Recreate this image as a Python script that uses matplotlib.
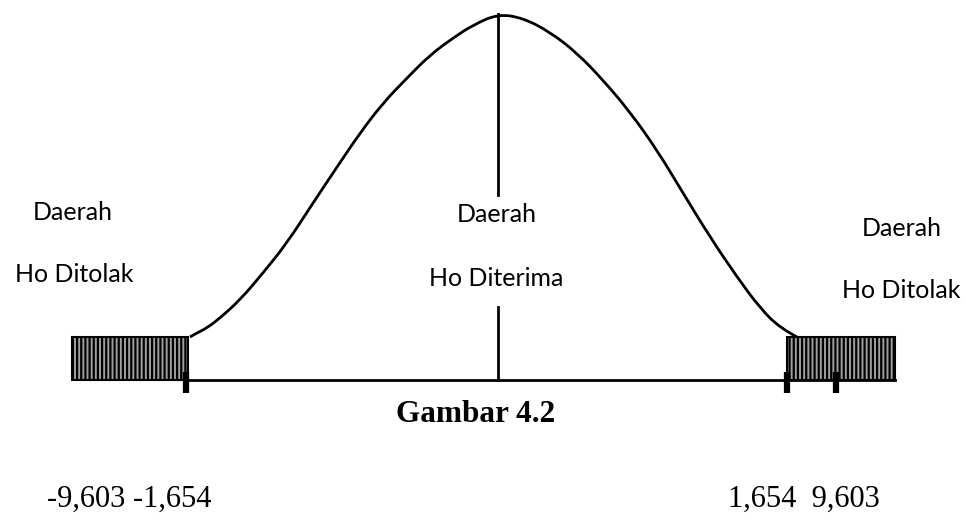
import matplotlib.pyplot as plt
from matplotlib.patches import Rectangle, PathPatch
from matplotlib.path import Path
import matplotlib as mpl

# curve outline (pixel coords, y downwards)
curve_x = [190, 193, 207, 220, 240, 263, 287, 313, 337, 360, 383, 407, 430, 453, 473, 498,
           523, 550, 577, 603, 630, 657, 683, 710, 737, 760, 780, 797]
curve_y = [337, 335, 328, 318, 300, 273, 243, 203, 167, 133, 103, 78, 55, 38, 25, 14,
           18, 32, 53, 80, 112, 150, 193, 237, 277, 308, 328, 337]

# critical values under the axis
left_labels = "-9,603 -1,654"
right_labels = "1,654  9,603"
tick_x = [186, 787, 836]
title = "Gambar 4.2"

mpl.rcParams['hatch.color'] = '#1a1a1a'
mpl.rcParams['hatch.linewidth'] = 1.6

fig = plt.figure(figsize=(9.66, 5.29), dpi=100)
ax = fig.add_axes([0, 0, 1, 1])
ax.set_xlim(0, 966)
ax.set_ylim(529, 0)
ax.axis('off')

# shaded rejection regions
ax.add_patch(Rectangle((72, 337), 116, 43, facecolor='#a0a0a0', edgecolor='black',
                       hatch='||||', lw=1.5))
ax.add_patch(Rectangle((787, 337), 108, 43, facecolor='#a0a0a0', edgecolor='black',
                       hatch='||||', lw=1.5))

# smooth curve: points used as quadratic control points, passing through midpoints
pts = list(zip(curve_x, curve_y))
verts = [pts[0]]
codes = [Path.MOVETO]
for i in range(1, len(pts) - 1):
    mid = ((pts[i][0] + pts[i + 1][0]) / 2, (pts[i][1] + pts[i + 1][1]) / 2)
    if i == len(pts) - 2:
        mid = pts[-1]
    verts += [pts[i], mid]
    codes += [Path.CURVE3, Path.CURVE3]
ax.add_patch(PathPatch(Path(verts, codes), fill=False, lw=2, edgecolor='black'))

# axis line and center line
ax.plot([186, 895], [380, 380], color='black', lw=2)
ax.plot([498, 498], [14, 195], color='black', lw=2)
ax.plot([498, 498], [307, 380], color='black', lw=2)
for tx in tick_x:
    ax.plot([tx, tx], [372, 393], color='black', lw=4.5, solid_capstyle='butt')

sans = ['Lato', 'DejaVu Sans']
fs = 18
ax.text(73, 213, "Daerah", ha='center', va='center', fontsize=fs, family=sans)
ax.text(74, 274, "Ho Ditolak", ha='center', va='center', fontsize=fs, family=sans)
ax.text(497, 214, "Daerah", ha='center', va='center', fontsize=fs, family=sans)
ax.text(496, 278, "Ho Diterima", ha='center', va='center', fontsize=fs, family=sans)
ax.text(902, 228, "Daerah", ha='center', va='center', fontsize=fs, family=sans)
ax.text(901, 290, "Ho Ditolak", ha='center', va='center', fontsize=fs, family=sans)

serif = ['Liberation Serif', 'DejaVu Serif']
ax.text(476, 414, title, ha='center', va='center', fontsize=22.5, fontweight='bold', family=serif)
ax.text(47, 499, left_labels, ha='left', va='center', fontsize=22, family=serif)
ax.text(728, 499, right_labels, ha='left', va='center', fontsize=22, family=serif)

fig.savefig('out.png', dpi=100)
